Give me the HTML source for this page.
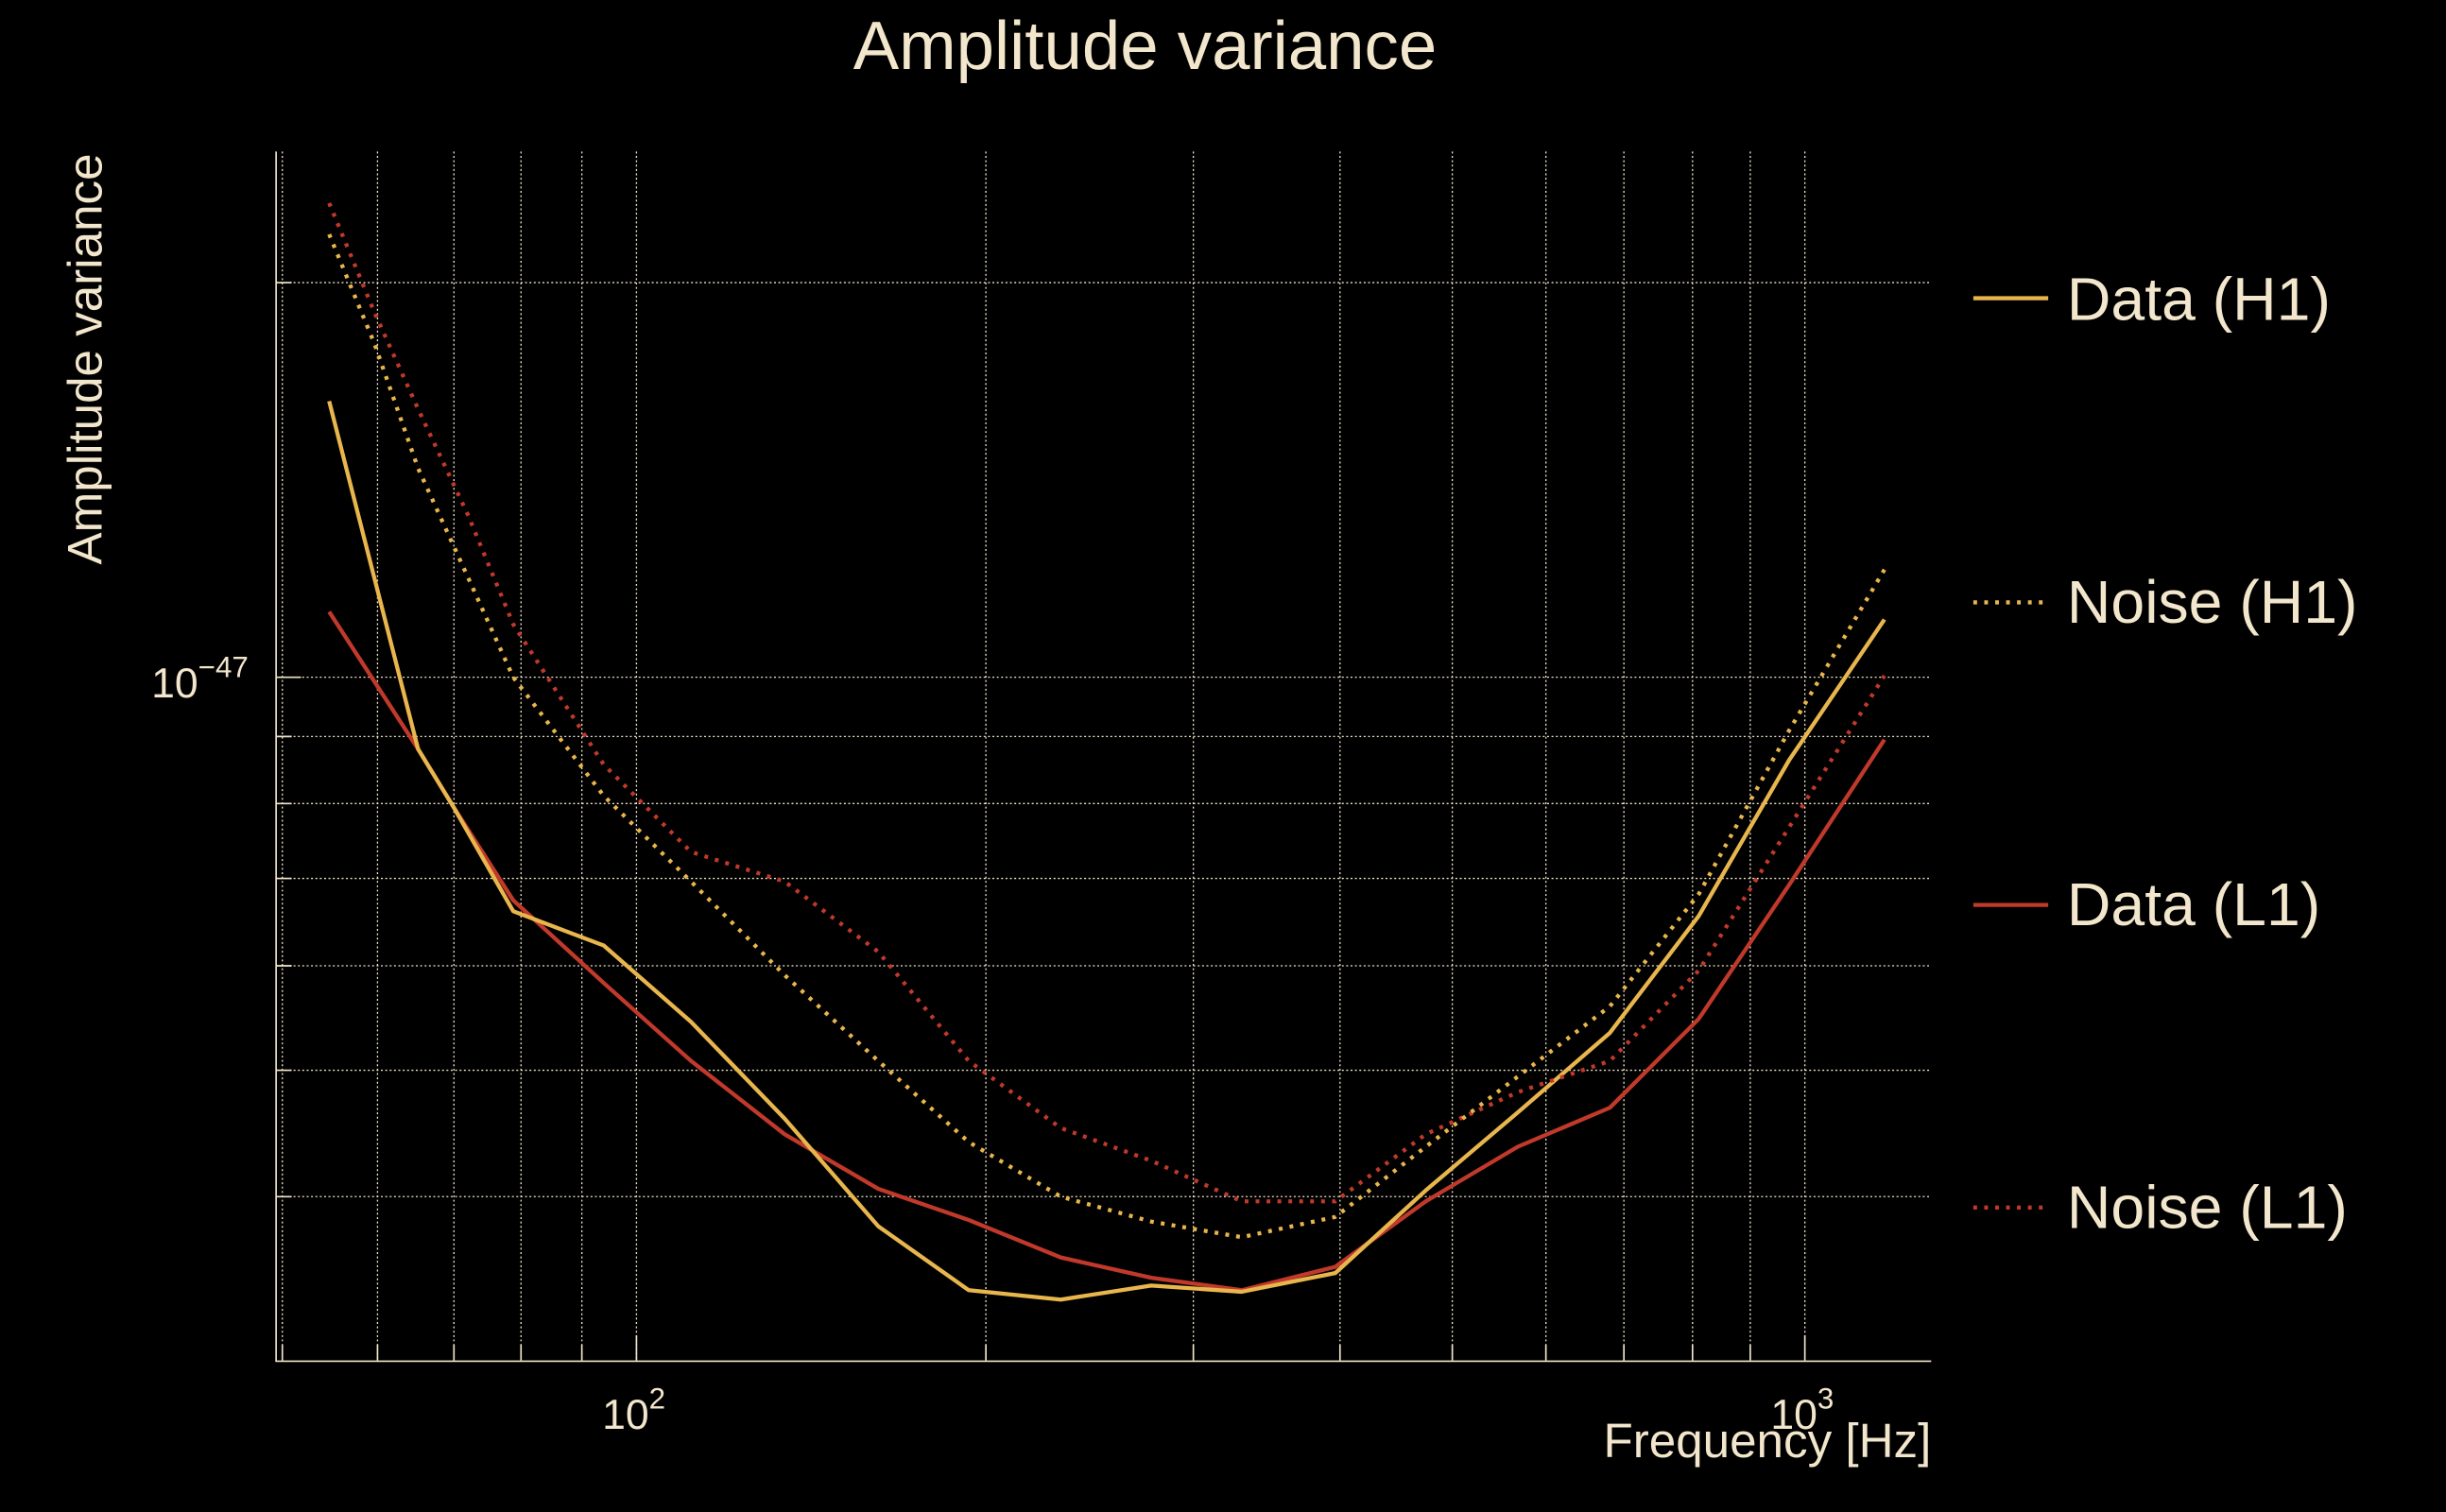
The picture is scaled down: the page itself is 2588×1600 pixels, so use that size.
<!DOCTYPE html>
<html><head><meta charset="utf-8"><style>
html,body{margin:0;padding:0;background:#000;}
svg{display:block;}
text{font-family:"Liberation Sans",sans-serif;fill:#f2e6cc;}
</style></head><body>
<svg width="2588" height="1600" viewBox="0 0 1568 969" xmlns="http://www.w3.org/2000/svg">
<rect width="1568" height="969" fill="#000"/>
<g stroke="#f2e6cc" stroke-width="0.8" stroke-dasharray="1.2 1.6" fill="none">
<path d="M181,97V872M242,97V872M291,97V872M334,97V872M373,97V872M408,97V872M632,97V872M765,97V872M859,97V872M931,97V872M991,97V872M1041,97V872M1085,97V872M1122,97V872M1157,97V872"/>
<path d="M177,181H1238M177,434H1238M177,472H1238M177,515H1238M177,563H1238M177,619H1238M177,686H1238M177,767H1238"/>
</g>
<g stroke="#f2e6cc" stroke-width="1" fill="none">
<path d="M177,97V872.5H1238"/>
<path d="M181,872V862M242,872V862M291,872V862M334,872V862M373,872V862M408,872V856M632,872V862M765,872V862M859,872V862M931,872V862M991,872V862M1041,872V862M1085,872V862M1122,872V862M1157,872V856"/>
<path d="M177,181H187M177,434H193M177,472H187M177,515H187M177,563H187M177,619H187M177,686H187M177,767H187"/>
</g>
<g fill="none" stroke-width="2.6" stroke-linejoin="round">
<polyline stroke="#c0392b" points="211,392 268,480 290,516 329,577 387,630 443,680 503,727 563,762 621,782 680,806 738,819 796,827 856,812 914,770 973,735 1032,710 1089,653 1147,567 1208,474"/>
<polyline stroke="#e8b64c" points="211,257 268,480 290,516 329,584 387,606 443,655 503,717 563,786 621,827 680,833 738,824 796,828 856,816 914,763 973,713 1032,662 1089,587 1147,487 1208,397"/>
<polyline stroke="#c0392b" stroke-dasharray="2.4 4.6" points="211,130 240,200 268,262 300,330 329,400 387,490 443,546 503,565 563,610 621,680 680,723 738,744 796,770 856,770 914,727 973,700 1032,680 1089,622 1147,530 1208,433"/>
<polyline stroke="#e8b64c" stroke-dasharray="2.4 4.6" points="211,150 240,220 268,300 300,370 329,434 387,510 443,565 503,625 563,680 621,732 680,767 738,783 796,793 856,780 914,735 973,690 1032,645 1089,573 1147,468 1208,365"/>
</g>
<text x="734" y="44" font-size="44" text-anchor="middle">Amplitude variance</text>
<text transform="translate(65,230) rotate(-90)" font-size="31" text-anchor="middle">Amplitude variance</text>
<text x="1238" y="934" font-size="31" text-anchor="end">Frequency [Hz]</text>
<text x="386" y="916" font-size="27">10<tspan dy="-13" font-size="19">2</tspan></text>
<text x="1135" y="916" font-size="27">10<tspan dy="-13" font-size="19">3</tspan></text>
<text x="97" y="447" font-size="27">10<tspan dy="-13" font-size="19">−47</tspan></text>
<g stroke-width="2.6">
<line x1="1265" y1="191" x2="1313" y2="191" stroke="#e8b64c"/>
<line x1="1265" y1="386" x2="1313" y2="386" stroke="#e8b64c" stroke-dasharray="2.4 4.6"/>
<line x1="1265" y1="580" x2="1313" y2="580" stroke="#c0392b"/>
<line x1="1265" y1="774" x2="1313" y2="774" stroke="#c0392b" stroke-dasharray="2.4 4.6"/>
</g>
<g font-size="39">
<text x="1325" y="205">Data (H1)</text>
<text x="1325" y="399">Noise (H1)</text>
<text x="1325" y="593">Data (L1)</text>
<text x="1325" y="787">Noise (L1)</text>
</g>
</svg>
</body></html>
